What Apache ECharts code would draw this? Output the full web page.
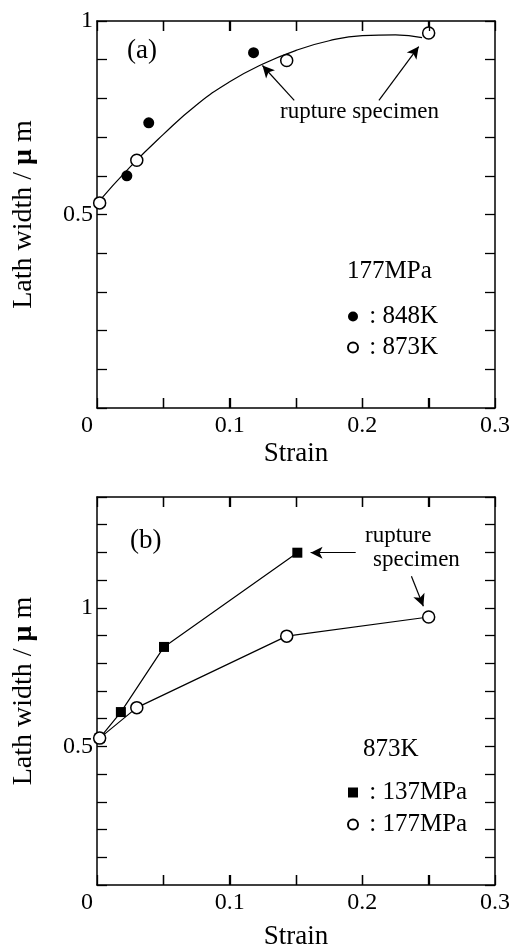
<!DOCTYPE html>
<html>
<head>
<meta charset="utf-8">
<script src="https://cdn.jsdelivr.net/npm/echarts@6/dist/echarts.min.js"></script>
<style>
  html, body { margin: 0; padding: 0; background: #fff; }
  #chart { width: 513px; height: 952px; }
</style>
</head>
<body>
<div id="chart"></div>
<script>
// values
var strainA848 = [0.0225, 0.039, 0.118];
var widthA848 = [0.600, 0.737, 0.918];
var strainA873 = [0.002, 0.030, 0.143, 0.250];
var widthA873 = [0.530, 0.640, 0.898, 0.969];
// fitted curve in panel (a)
var fitStrain = [0.0, 0.025, 0.05, 0.075, 0.10, 0.125, 0.15, 0.175, 0.20, 0.225, 0.245];
var fitWidth = [0.528, 0.623, 0.707, 0.783, 0.843, 0.889, 0.924, 0.949, 0.962, 0.964, 0.957];

var strainB137 = [0.002, 0.018, 0.0505, 0.151];
var widthB137 = [0.530, 0.624, 0.859, 1.199];
var strainB177 = [0.002, 0.030, 0.143, 0.250];
var widthB177 = [0.530, 0.640, 0.898, 0.967];

var xLabelValues = [0, 0.1, 0.2, 0.3];
var xTickValues = [0.05, 0.1, 0.15, 0.2, 0.25];
var yLabelValues = [0.5, 1];
var yMaxA = 1, yMaxB = 1.4;

// "rupture specimen" arrows: [fromX, fromY, toX, toY]
var arrowsA = [[0.1487, 0.795, 0.1247, 0.885], [0.2125, 0.795, 0.2425, 0.934]];
var arrowsB = [[0.195, 1.199, 0.161, 1.199], [0.237, 1.114, 0.246, 1.006]];

var FONT = "'Liberation Serif', 'DejaVu Serif', serif";

function zip(xs, ys) {
	return xs.map(function (x, i) { return [x, ys[i]]; });
}
function hasValue(list, v) {
	for (var i = 0; i < list.length; i++) {
		if (Math.abs(list[i] - v) < 1e-6) return true;
	}
	return false;
}
function arrowLines(list) {
	return list.map(function (a) {
		return [{ coord: [a[0], a[1]], symbol: 'none' }, { coord: [a[2], a[3]], symbol: 'arrow' }];
	});
}

var chart = echarts.init(document.getElementById('chart'));

function axisLine() {
	return { show: true, onZero: false, lineStyle: { color: '#000', width: 1.5 } };
}
function tick() {
	return { show: true, inside: true, length: 10, lineStyle: { color: '#000', width: 1.3 } };
}

function xAxes(grid, gap) {
	return [{
		gridIndex: grid, type: 'value', min: 0, max: 0.3, interval: 0.05, position: 'bottom',
		axisLine: axisLine(), axisTick: tick(), splitLine: { show: false },
		axisLabel: {
			margin: 6, color: '#000', fontFamily: FONT, fontSize: 24,
			formatter: function (v) {
				if (!hasValue(xLabelValues, v)) return '';
				if (v === 0) return '{z|0}';
				return String(+v.toFixed(1));
			},
			rich: { z: { fontFamily: FONT, fontSize: 24, color: '#000', padding: [0, 20, 0, 0] } }
		},
		name: 'Strain', nameLocation: 'middle', nameGap: gap,
		nameTextStyle: { color: '#000', fontFamily: FONT, fontSize: 27 }
	}, {
		gridIndex: grid, type: 'value', min: 0, max: 0.3, interval: 0.05, position: 'top',
		axisLine: axisLine(), axisTick: tick(), axisLabel: { show: false }, splitLine: { show: false }
	}];
}
function yAxes(grid, max) {
	return [{
		gridIndex: grid, type: 'value', min: 0, max: max, interval: 0.1, position: 'left',
		axisLine: axisLine(), axisTick: tick(), splitLine: { show: false },
		axisLabel: {
			margin: 4, color: '#000', fontFamily: FONT, fontSize: 24,
			formatter: function (v) {
				return hasValue(yLabelValues, v) ? String(+v.toFixed(1)) : '';
			}
		},
		name: 'Lath width / {b|μ} m', nameLocation: 'middle', nameGap: 59,
		nameTextStyle: {
			color: '#000', fontFamily: FONT, fontSize: 28,
			rich: { b: { fontFamily: FONT, fontSize: 28, fontWeight: 'bold', color: '#000' } }
		}
	}, {
		gridIndex: grid, type: 'value', min: 0, max: max, interval: 0.1, position: 'right',
		axisLine: axisLine(), axisTick: tick(), axisLabel: { show: false }, splitLine: { show: false }
	}];
}

var filled = { color: '#000', opacity: 1 };
var open = { color: '#fff', borderColor: '#000', borderWidth: 1.5, opacity: 1 };
function arrowMark(list) {
	return {
		silent: true, symbolSize: [9, 12], animation: false,
		label: { show: false },
		lineStyle: { color: '#000', width: 1.2, type: 'solid' },
		data: arrowLines(list)
	};
}

function label(txt, left, top, size) {
	return { type: 'text', left: left, top: top, z: 100,
		style: { text: txt, fill: '#000', fontFamily: FONT, fontSize: size } };
}
var labels = [
	label('(a)', 127, 37, 27),
	label('rupture specimen', 280, 100, 23),
	label('177MPa', 347, 259, 25),
	label('(b)', 130, 527, 27),
	label('rupture', 365, 524, 23),
	label('specimen', 373, 548, 23),
	label('873K', 363, 737, 25)
];

var option = {
	animation: false,
	grid: [
		{ left: 97, top: 21, width: 400, height: 387 },
		{ left: 97, top: 497, width: 400, height: 388 }
	],
	xAxis: xAxes(0, 32).concat(xAxes(1, 38)),
	yAxis: yAxes(0, yMaxA).concat(yAxes(1, yMaxB)),
	legend: [{
		orient: 'vertical', left: 342, top: 299, itemWidth: 10, itemHeight: 10, itemGap: 6,
		data: [{ name: '848K', icon: 'circle' }, { name: '873K', icon: 'circle' }],
		formatter: function (n) { return ' : ' + n; },
		textStyle: { color: '#000', fontFamily: FONT, fontSize: 25, lineHeight: 25 }
	}, {
		orient: 'vertical', left: 342, top: 775, itemWidth: 10, itemHeight: 10, itemGap: 7,
		data: [{ name: '137MPa', icon: 'rect' }, { name: '177MPa', icon: 'circle' }],
		formatter: function (n) { return ' : ' + n; },
		textStyle: { color: '#000', fontFamily: FONT, fontSize: 25, lineHeight: 25 }
	}],
	graphic: labels,
	series: [{
		name: 'fit', type: 'line', xAxisIndex: 0, yAxisIndex: 0, smooth: true,
		showSymbol: false, symbol: 'none', z: 1,
		lineStyle: { color: '#000', width: 1.2 },
		data: zip(fitStrain, fitWidth),
		markLine: arrowMark(arrowsA)
	}, {
		name: '848K', type: 'scatter', xAxisIndex: 0, yAxisIndex: 0, z: 3,
		symbol: 'circle', symbolSize: 11, itemStyle: filled,
		data: zip(strainA848, widthA848)
	}, {
		name: '873K', type: 'scatter', xAxisIndex: 0, yAxisIndex: 0, z: 3,
		symbol: 'circle', symbolSize: 12, itemStyle: open,
		data: zip(strainA873, widthA873)
	}, {
		name: '137MPa', type: 'line', xAxisIndex: 2, yAxisIndex: 2, z: 2,
		symbol: 'rect', symbolSize: 10, showAllSymbol: true,
		itemStyle: filled, lineStyle: { color: '#000', width: 1.2 },
		data: zip(strainB137, widthB137),
		markLine: arrowMark(arrowsB)
	}, {
		name: '177MPa', type: 'line', xAxisIndex: 2, yAxisIndex: 2, z: 3,
		symbol: 'circle', symbolSize: 12, showAllSymbol: true,
		itemStyle: open, lineStyle: { color: '#000', width: 1.2 },
		data: zip(strainB177, widthB177)
	}]
};

chart.setOption(option);

// inward tick marks on top and bottom edges, placed through the axis scales
function edgeTicks(xIndex, yIndex, yMax) {
	var yb = chart.convertToPixel({ yAxisIndex: yIndex }, 0);
	var yt = chart.convertToPixel({ yAxisIndex: yIndex }, yMax);
	var out = [];
	xTickValues.forEach(function (v) {
		var x = Math.round(chart.convertToPixel({ xAxisIndex: xIndex }, v)) + 0.5;
		out.push({ type: 'line', z: 200, silent: true,
			shape: { x1: x, y1: yb, x2: x, y2: yb - 10 }, style: { stroke: '#000', lineWidth: 1.3 } });
		out.push({ type: 'line', z: 200, silent: true,
			shape: { x1: x, y1: yt, x2: x, y2: yt + 10 }, style: { stroke: '#000', lineWidth: 1.3 } });
	});
	return out;
}
chart.setOption({
	graphic: labels.concat(edgeTicks(0, 0, yMaxA), edgeTicks(2, 2, yMaxB))
});
</script>
</body>
</html>
